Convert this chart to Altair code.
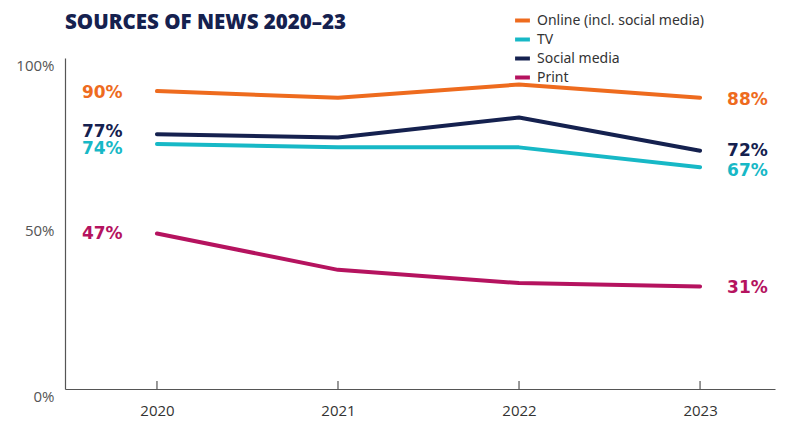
import altair as alt
import pandas as pd

years = [2020, 2021, 2022, 2023]
series = ["Online (incl. social media)", "TV", "Social media", "Print"]
online = [90, 88, 92, 88]
tv = [74, 73, 73, 67]
social = [77, 76, 82, 72]
printv = [47, 36, 32, 31]
colors = ["#EE6B1E", "#17B8C6", "#15214F", "#B5135F"]
title_text = "SOURCES OF NEWS 2020–23"

vals = [online, tv, social, printv]
rows = []
for s, v in zip(series, vals):
    for y, val in zip(years, v):
        rows.append({"year": y, "series": s, "value": val})
df = pd.DataFrame(rows)

first = df[df.year == 2020].copy()
last = df[df.year == 2023].copy()
first["label"] = first["value"].astype(str) + "%"
last["label"] = last["value"].astype(str) + "%"
# small vertical nudges so close labels stay apart
first["off"] = first["series"].map({"Online (incl. social media)": 0, "TV": -1.0, "Social media": 1.3, "Print": 0.3})
last["off"] = last["series"].map({"Online (incl. social media)": 0, "TV": -0.6, "Social media": 0.6, "Print": 0})

xscale = alt.Scale(domain=[2019.492, 2023.414], nice=False, zero=False)
yscale = alt.Scale(domain=[0, 100], nice=False)
cscale = alt.Scale(domain=series, range=colors)

base = alt.Chart(df)

lines = base.mark_line(strokeWidth=4, strokeCap="round", strokeJoin="round").encode(
    x=alt.X("year:Q", scale=xscale, axis=alt.Axis(
        values=years, format="d", title=None, ticks=False, labelPadding=14,
        labelFont="Open Sans", labelFontSize=15, labelColor="#333333",
        domainColor="#555555", domainWidth=1.2, grid=False)),
    y=alt.Y("value:Q", scale=yscale, axis=alt.Axis(
        values=[0, 50, 100], labelExpr="datum.value + '%'", title=None, ticks=False,
        labelPadding=11, labelFont="Open Sans", labelFontSize=15, labelColor="#555555",
        labelBaseline="top", labelOffset=0, domainColor="#555555", domainWidth=1.2, grid=False)),
    color=alt.Color("series:N", scale=cscale, sort=series, legend=alt.Legend(
        title=None, orient="none", legendX=448, legendY=-47, symbolType="stroke",
        symbolStrokeWidth=4, symbolSize=220, labelFont="Noto Sans", labelFontSize=14,
        labelColor="#333333", rowPadding=1, labelOffset=5, labelLimit=400)),
)

ticks = alt.Chart(pd.DataFrame({"year": years})).mark_rule(color="#555555", strokeWidth=1.2).encode(
    x=alt.X("year:Q", scale=xscale),
    y=alt.value(323),
    y2=alt.value(331),
)

left_labels = alt.Chart(first).mark_text(
    align="left", baseline="middle", dx=-75, dy=2, fontSize=17, fontWeight="bold", font="DejaVu Sans"
).encode(
    x=alt.X("year:Q", scale=xscale),
    y=alt.Y("yy:Q", scale=yscale),
    text="label:N",
    color=alt.Color("series:N", scale=cscale, legend=None),
).transform_calculate(yy="datum.value + datum.off")

right_labels = alt.Chart(last).mark_text(
    align="left", baseline="middle", dx=27, dy=2, fontSize=17, fontWeight="bold", font="DejaVu Sans"
).encode(
    x=alt.X("year:Q", scale=xscale),
    y=alt.Y("yy:Q", scale=yscale),
    text="label:N",
    color=alt.Color("series:N", scale=cscale, legend=None),
).transform_calculate(yy="datum.value + datum.off")

title = alt.Chart(pd.DataFrame({"t": [title_text]})).mark_text(
    align="left", baseline="alphabetic", fontSize=20.5, fontWeight=800, font="Open Sans", color="#15214F"
).encode(
    x=alt.value(0),
    y=alt.value(-29),
    text="t:N",
)

chart = alt.layer(lines, ticks, left_labels, right_labels, title).properties(
    width=710, height=331,
    autosize=alt.AutoSizeParams(type="none"),
    padding={"left": 57, "top": 50, "right": 14, "bottom": 30},
).configure_view(stroke=None)

chart.save("out.html", embed_options={"renderer": "svg", "actions": False})
